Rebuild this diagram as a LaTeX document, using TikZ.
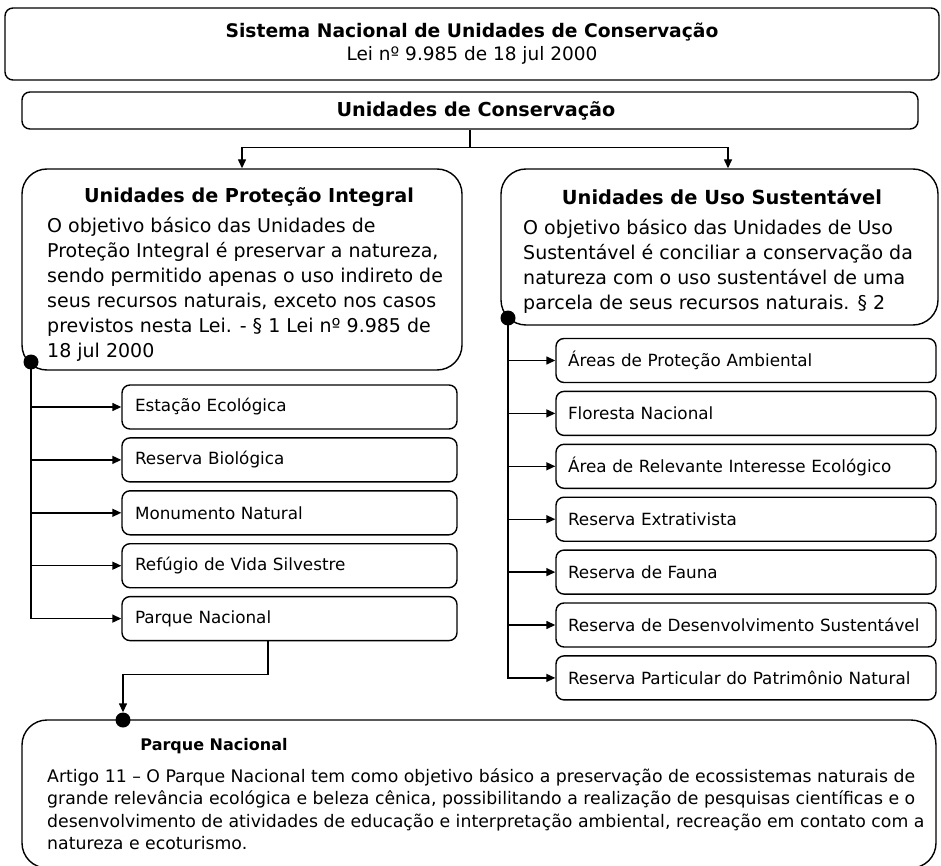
\documentclass[tikz,border=0pt]{standalone}
\usepackage{fontspec}
\setmainfont{DejaVu Sans}
\usetikzlibrary{positioning,arrows.meta}

\begin{document}
\begin{tikzpicture}[x=1pt,y=-1pt]
    \tikzstyle{every node}=[inner sep=0, font=\fontsize{16.8}{20}\selectfont]
    \tikzstyle{box}=[draw, line width=1.4pt, rounded corners=8pt]
    \tikzstyle{bigbox}=[draw, line width=1.4pt, rounded corners=25pt]
    \tikzstyle{item}=[box, minimum height=44pt, inner xsep=13pt, align=left]
    \tikzstyle{arr}=[line width=1.4pt, -{Triangle[length=9pt,width=8pt]}]
    \tikzstyle{dot}=[circle, fill, minimum size=15pt]
    \useasboundingbox (0,0) rectangle (941,866);
    % cabecalho
    \node[box, minimum width=934pt, minimum height=72pt, align=center,
          font=\fontsize{18.5}{23}\selectfont] (SNUC) at (472,44)
        {{\bfseries\fontsize{18.7}{23}\selectfont Sistema Nacional de Unidades de Conservação}\\
         Lei nº 9.985 de 18 jul 2000};
    \node[box, minimum width=896pt, minimum height=37pt,
          font=\bfseries\fontsize{19.2}{22}\selectfont] (UC) at (470,110.5)
        {\hspace*{12pt}Unidades de Conservação};
    % dois grupos
    \node[bigbox, minimum width=440pt, minimum height=201pt] (PI) at (242,269.5) {};
    \node[font=\bfseries\fontsize{19.2}{24}\selectfont] (PItit) at (249,197) {Unidades de Proteção Integral};
    \node[anchor=north west, align=left, font=\fontsize{19}{25}\selectfont] (PItxt) at (47,217)
        {O objetivo básico das Unidades de\\
         Proteção Integral é preservar a natureza,\\
         sendo permitido apenas o uso indireto de\\
         seus recursos naturais, exceto nos casos\\
         previstos nesta Lei. - § 1 Lei nº 9.985 de\\
         18 jul 2000};
    \node[bigbox, minimum width=437pt, minimum height=156pt] (US) at (719.5,247) {};
    \node[font=\bfseries\fontsize{19.4}{24}\selectfont] (UStit) at (722,197) {Unidades de Uso Sustentável};
    \node[anchor=north west, align=left, font=\fontsize{19}{25}\selectfont] (UStxt) at (523,219)
        {O objetivo básico das Unidades de Uso\\
         Sustentável é conciliar a conservação da\\
         natureza com o uso sustentável de uma\\
         parcela de seus recursos naturais. § 2};
    \draw[line width=1.4pt] (UC.south) -- ++(0,18) coordinate (split);
    \draw[arr] (split) -| (PI.north);
    \draw[arr] (split) -| ([xshift=8.5pt]US.north);
    % protecao integral
    \begin{scope}[node distance=7.5pt]
    \node[item, text width=309pt] (EE) at (289.5,407) {Estação Ecológica};
    \node[item, text width=309pt, below=of EE] (RB) {Reserva Biológica};
    \node[item, text width=309pt, below=of RB] (MN) {Monumento Natural};
    \node[item, text width=309pt, below=of MN] (RVS) {Refúgio de Vida Silvestre};
    \node[item, text width=309pt, below=of RVS] (PN) {Parque Nacional};
    % uso sustentavel
    \node[item, text width=356pt, inner xsep=12pt] (APA) at (746,360.5) {Áreas de Proteção Ambiental};
    \node[item, text width=356pt, inner xsep=12pt, below=of APA] (FN) {Floresta Nacional};
    \node[item, text width=356pt, inner xsep=12pt, below=of FN] (ARIE) {Área de Relevante Interesse Ecológico};
    \node[item, text width=356pt, inner xsep=12pt, below=of ARIE] (RESEX) {Reserva Extrativista};
    \node[item, text width=356pt, inner xsep=12pt, below=of RESEX] (RF) {Reserva de Fauna};
    \node[item, text width=356pt, inner xsep=12pt, below=of RF] (RDS) {Reserva de Desenvolvimento Sustentável};
    \node[item, text width=356pt, inner xsep=12pt, below=of RDS] (RPPN) {Reserva Particular do Patrimônio Natural};
    \end{scope}
    % parque nacional
    \node[bigbox, minimum width=914pt, minimum height=148pt] (PARNA) at (479,794) {};
    \node[font=\bfseries\fontsize{16}{20}\selectfont] (PARNAtit) at (214,746) {Parque Nacional};
    \node[anchor=north west, align=left, font=\fontsize{17.3}{22.5}\selectfont] (PARNAtxt) at (47,768)
        {Artigo 11 – O Parque Nacional tem como objetivo básico a preservação de ecossistemas naturais de\\
         grande relevância ecológica e beleza cênica, possibilitando a realização de pesquisas científicas e o\\
         desenvolvimento de atividades de educação e interpretação ambiental, recreação em contato com a\\
         natureza e ecoturismo.};
    \node[dot] (PIdot) at (31,362) {};
    \node[dot] (USdot) at (508,318) {};
    \node[dot] (PNdot) at (123,720) {};
    \foreach \n in {EE,RB,MN,RVS,PN}
        \draw[arr] (PIdot.center) |- (\n.west);
    \foreach \n in {APA,FN,ARIE,RESEX,RF,RDS,RPPN}
        \draw[arr] (USdot.center) |- (\n.west);
    \draw[arr] ([xshift=-21.5pt]PN.south) -- ++(0,33) -| (PNdot.north);
\end{tikzpicture}
\end{document}
